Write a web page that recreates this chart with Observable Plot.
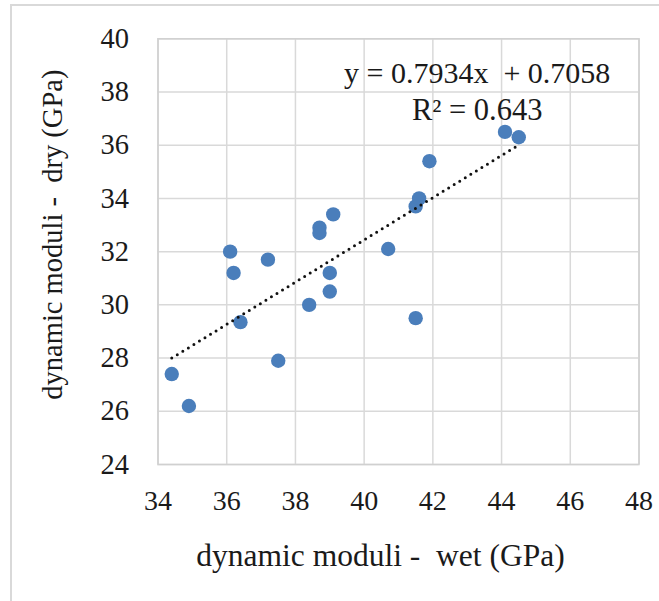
<!DOCTYPE html>
<html>
<head>
<meta charset="utf-8">
<script src="https://cdn.jsdelivr.net/npm/d3@7"></script>
<script src="https://cdn.jsdelivr.net/npm/@observablehq/plot@0.6"></script>
<style>
  html, body { margin: 0; padding: 0; background: #fff; }
  #wrap { position: relative; width: 659px; height: 601px; overflow: hidden; }
  #border { position: absolute; left: 10px; top: 4px; width: 700px; height: 700px; border: 2px solid #d9d9d9; box-sizing: border-box; }
  #chart { position: absolute; left: 0; top: 0; }
  #chart svg, #chart svg text { font-family: "Liberation Serif", "Times New Roman", serif !important; }
</style>
</head>
<body>
<div id="wrap"><div id="border"></div><div id="chart"></div></div>
<script>
// Data
const wet = [34.4, 34.9, 36.1, 36.2, 36.4, 37.2, 37.5, 38.4, 38.7, 38.7, 39.0, 39.0, 39.1, 40.7, 41.5, 41.5, 41.6, 41.9, 44.1, 44.5];
const dry = [27.4, 26.2, 32.0, 31.2, 29.35, 31.7, 27.9, 30.0, 32.9, 32.7, 31.2, 30.5, 33.4, 32.1, 29.5, 33.7, 34.0, 35.4, 36.5, 36.3];
const xTicks = [34, 36, 38, 40, 42, 44, 46, 48];
const yTicks = [24, 26, 28, 30, 32, 34, 36, 38, 40];
const slope = 0.7934;
const intercept = 0.7058;
const r2 = 0.643;
const xTitle = "dynamic moduli -\u00a0 wet (GPa)";
const yTitle = "dynamic moduli -\u00a0 dry (GPa)";
const eqText = `y = ${slope}x\u00a0 + ${intercept}`;
const r2Text = `R\u00b2 = ${r2}`;

const points = wet.map((w, i) => ({wet: w, dry: dry[i]}));
const [xmin, xmax] = d3.extent(wet);
const trend = [xmin, xmax].map(x => ({wet: x, dry: slope * x + intercept}));

const font = "Liberation Serif";
const gridColor = "#d9d9d9";

const chart = Plot.plot({
  width: 659,
  height: 601,
  marginLeft: 157.5,
  marginRight: 20.5,
  marginTop: 38.3,
  marginBottom: 137,
  style: {fontFamily: font, fontSize: "28px", color: "#1a1a1a", background: "transparent", overflow: "visible"},
  x: {domain: [34, 48], ticks: xTicks},
  y: {domain: [24, 40], ticks: yTicks},
  marks: [
    Plot.gridX(xTicks, {stroke: gridColor, strokeOpacity: 1, strokeWidth: 1.5}),
    Plot.gridY(yTicks, {stroke: gridColor, strokeOpacity: 1, strokeWidth: 1.5}),
    Plot.frame({stroke: "#d0d0d0", strokeWidth: 1.5}),
    Plot.axisX(xTicks, {tickSize: 0, tickPadding: 26, label: null, fontSize: 28, fontFamily: font}),
    Plot.axisY(yTicks, {tickSize: 0, tickPadding: 29, label: null, fontSize: 28.5, fontFamily: font}),
    Plot.dot(points, {x: "wet", y: "dry", r: 7.2, fill: "#4a7ebb", stroke: "none"}),
    Plot.line(trend, {x: "wet", y: "dry", stroke: "#111", strokeWidth: 3, strokeDasharray: "0,6.5", strokeLinecap: "round"}),
    Plot.text([eqText], {frameAnchor: "top-left", dx: 319.2, dy: 43.7, text: d => d, textAnchor: "middle", lineAnchor: "bottom", fontSize: 30, fontFamily: font, fill: "#1a1a1a"}),
    Plot.text([r2Text], {frameAnchor: "top-left", dx: 319.2, dy: 80.7, text: d => d, textAnchor: "middle", lineAnchor: "bottom", fontSize: 30.5, fontFamily: font, fill: "#1a1a1a"}),
    Plot.text([xTitle], {frameAnchor: "bottom", dx: -18, dy: 101, text: d => d, textAnchor: "middle", lineAnchor: "bottom", fontSize: 31.5, fontFamily: font, fill: "#1a1a1a"}),
    Plot.text([yTitle], {frameAnchor: "left", dx: -105.5, dy: -17, rotate: -90, text: d => d, textAnchor: "middle", lineAnchor: "middle", fontSize: 28.5, fontFamily: font, fill: "#1a1a1a"})
  ]
});
document.getElementById("chart").appendChild(chart);
</script>
</body>
</html>
